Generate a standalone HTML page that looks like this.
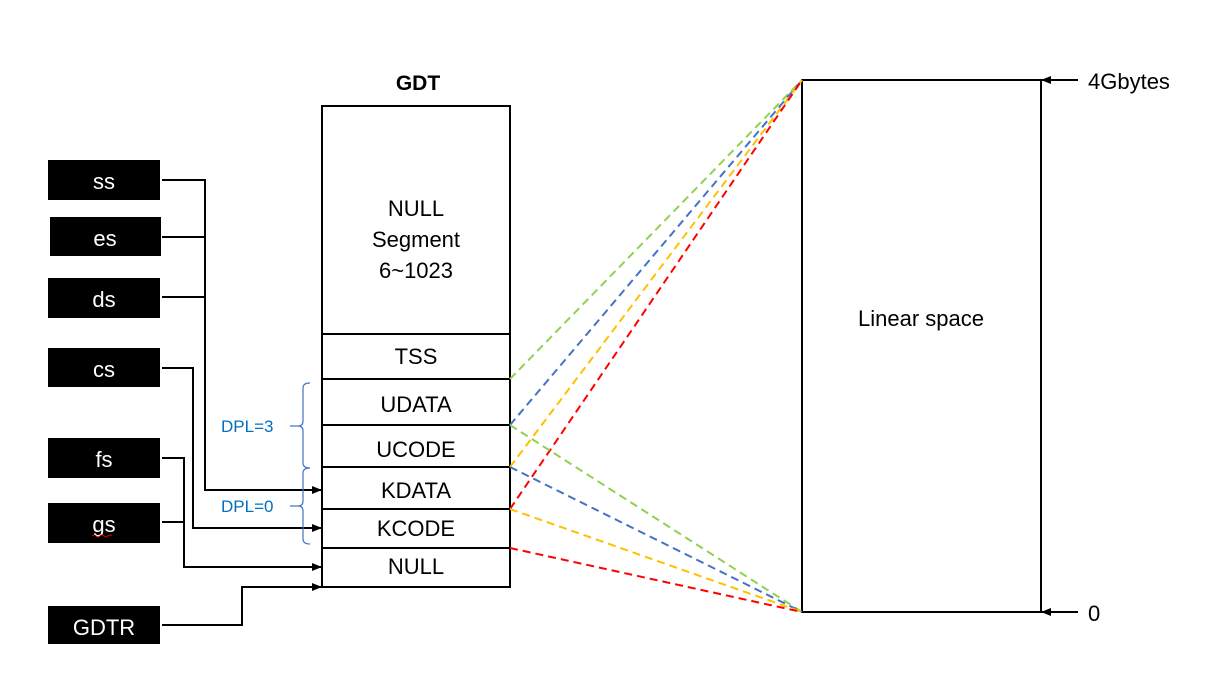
<!DOCTYPE html>
<html><head><style>
body{margin:0;background:#fff;}
svg{display:block;font-family:"Liberation Sans","Noto Sans CJK SC",sans-serif;}
</style></head><body>
<svg width="1229" height="690" viewBox="0 0 1229 690">
<defs><marker id="a" markerWidth="10" markerHeight="8" refX="9" refY="4" orient="auto" markerUnits="userSpaceOnUse"><path d="M0,0 L10,4 L0,8z" fill="#000"/></marker></defs>
<rect width="1229" height="690" fill="#fff"/>
<text x="418" y="90" font-size="21" font-weight="bold" text-anchor="middle">GDT</text>
<g fill="none" stroke="#000" stroke-width="2">
<rect x="322" y="106" width="188" height="481"/>
<line x1="322" y1="334" x2="510" y2="334"/>
<line x1="322" y1="379" x2="510" y2="379"/>
<line x1="322" y1="425" x2="510" y2="425"/>
<line x1="322" y1="467" x2="510" y2="467"/>
<line x1="322" y1="509" x2="510" y2="509"/>
<line x1="322" y1="548" x2="510" y2="548"/>
<rect x="802" y="80" width="239" height="532"/>
</g>
<g font-size="22" text-anchor="middle" fill="#000">
<text x="416" y="216">NULL</text><text x="416" y="247">Segment</text><text x="416" y="278">6~1023</text>
<text x="416" y="364">TSS</text><text x="416" y="412">UDATA</text><text x="416" y="457">UCODE</text>
<text x="416" y="498">KDATA</text><text x="416" y="536">KCODE</text><text x="416" y="574">NULL</text>
<text x="921" y="326">Linear space</text>
<text x="1088" y="89" text-anchor="start">4Gbytes</text><text x="1088" y="621" text-anchor="start">0</text>
</g>
<g fill="none" stroke-width="2" stroke-dasharray="8,5">
<line x1="510" y1="379" x2="802" y2="80" stroke="#92d050"/>
<line x1="510" y1="425" x2="802" y2="80" stroke="#4472c4"/>
<line x1="510" y1="467" x2="802" y2="80" stroke="#ffc000"/>
<line x1="510" y1="509" x2="802" y2="80" stroke="#ff0000"/>
<line x1="510" y1="425" x2="802" y2="612" stroke="#92d050"/>
<line x1="510" y1="467" x2="802" y2="612" stroke="#4472c4"/>
<line x1="510" y1="509" x2="802" y2="612" stroke="#ffc000"/>
<line x1="510" y1="548" x2="802" y2="612" stroke="#ff0000"/>
</g>
<g fill="#000">
<rect x="48" y="160" width="112" height="40"/><rect x="50" y="217" width="111" height="39"/>
<rect x="48" y="278" width="112" height="40"/><rect x="48" y="348" width="112" height="39"/>
<rect x="48" y="438" width="112" height="40"/><rect x="48" y="503" width="112" height="40"/>
<rect x="48" y="606" width="112" height="38"/>
</g>
<g font-size="22" text-anchor="middle" fill="#fff">
<text x="104" y="189">ss</text><text x="105" y="246">es</text><text x="104" y="307">ds</text>
<text x="104" y="377">cs</text><text x="104" y="467">fs</text><text x="104" y="532">gs</text>
<text x="104" y="635">GDTR</text>
</g>
<path d="M92,536 q2,-2 4,0 t4,0 t4,0 t4,0 t4,0" stroke="#c00" fill="none" stroke-width="1"/>
<g fill="none" stroke="#000" stroke-width="2">
<polyline points="162,180 205,180 205,490 321,490" marker-end="url(#a)"/>
<line x1="162" y1="237" x2="205" y2="237"/><line x1="162" y1="297" x2="205" y2="297"/>
<polyline points="162,368 193,368 193,528 321,528" marker-end="url(#a)"/>
<polyline points="162,458 184,458 184,567 321,567" marker-end="url(#a)"/>
<line x1="162" y1="522" x2="184" y2="522"/>
<polyline points="162,625 242,625 242,587 321,587" marker-end="url(#a)"/>
<line x1="1078" y1="80" x2="1042" y2="80" marker-end="url(#a)"/>
<line x1="1078" y1="612" x2="1042" y2="612" marker-end="url(#a)"/>
</g>
<g fill="none" stroke="#4472c4" stroke-width="1.2">
<path d="M310,383 q-7,0 -7,5 v33 q0,5 -5,5 q5,0 5,5 v32 q0,5 7,5"/>
<path d="M310,468 q-7,0 -7,5 v28 q0,5 -5,5 q5,0 5,5 v28 q0,5 7,5"/>
<line x1="290" y1="426" x2="298" y2="426"/><line x1="290" y1="506" x2="298" y2="506"/>
</g>
<g font-size="17" fill="#0070c0">
<text x="221" y="432">DPL=3</text><text x="221" y="512">DPL=0</text>
</g>
</svg>
</body></html>
